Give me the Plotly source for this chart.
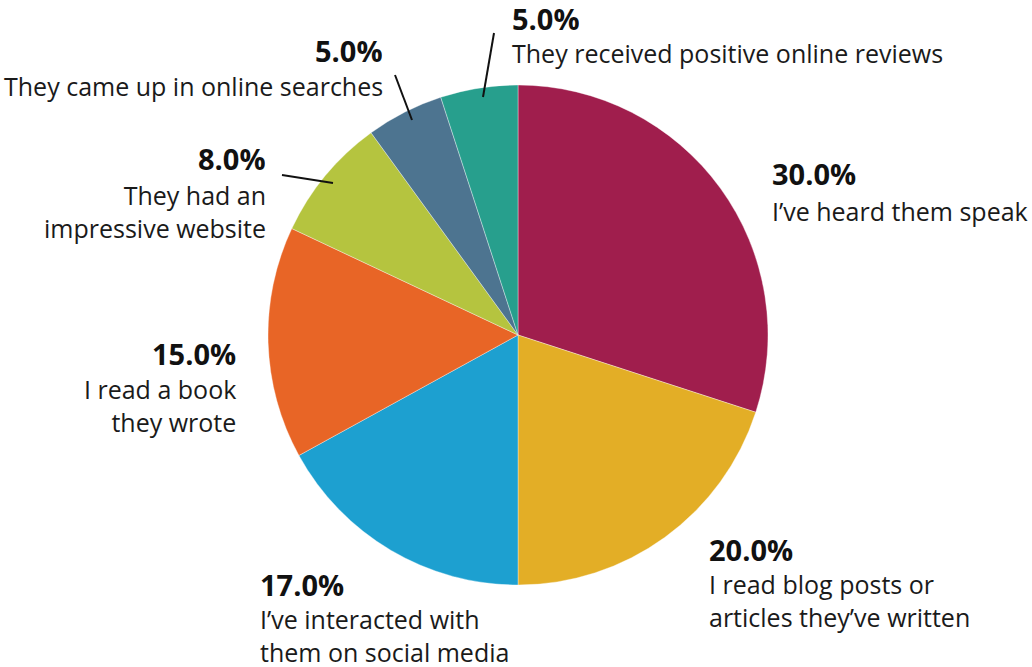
import plotly.graph_objects as go

# data
categories = [
    "I've heard them speak",
    "I read blog posts or articles they've written",
    "I've interacted with them on social media",
    "I read a book they wrote",
    "They had an impressive website",
    "They came up in online searches",
    "They received positive online reviews",
]
values = [30.0, 20.0, 17.0, 15.0, 8.0, 5.0, 5.0]
colors = ["#A01E4D", "#E3AE26", "#1DA0D0", "#E86526", "#B5C43F", "#4D7490", "#279F8D"]
label_lines = [
    "I’ve heard them speak",
    "I read blog posts or<br>articles they’ve written",
    "I’ve interacted with<br>them on social media",
    "I read a book<br>they wrote",
    "They had an<br>impressive website",
    "They came up in online searches",
    "They received positive online reviews",
]

W, H = 1032, 667
FONT = "Open Sans"


def px(x):
    return x / W


def py(y):
    return 1 - y / H


fig = go.Figure()
fig.add_trace(go.Pie(
    labels=categories, values=values,
    marker=dict(colors=colors, line=dict(color="rgba(255,255,255,0.6)", width=0.6)),
    sort=False, direction="clockwise",
    textinfo="none", hoverinfo="skip", showlegend=False,
    domain=dict(x=[px(268), px(768)], y=[py(585), py(85)]),
))

# label placement: (pct x, pct y, text y, anchor)
placements = [
    (770, 173, 192, "left"),
    (707, 549, 565, "left"),
    (258, 584, 600, "left"),
    (238, 353, 370, "right"),
    (268, 158, 176, "right"),
    (385, 50, 67, "right"),
    (510, 18, 34, "left"),
]

for v, txt, (x, yp, yt, anc) in zip(values, label_lines, placements):
    fig.add_annotation(
        x=px(x), y=py(yp), xref="paper", yref="paper",
        text=f"<b>{v:.1f}%</b>", showarrow=False,
        xanchor=anc, yanchor="middle", height=28,
        font=dict(family=FONT, size=29, color="#111111"),
    )
    fig.add_annotation(
        x=px(x), y=py(yt), xref="paper", yref="paper",
        text=txt, showarrow=False, align=anc,
        xanchor=anc, yanchor="top",
        font=dict(family=FONT, size=25, color="#1a1a1a"),
    )

# leader lines for the small slices
leaders = [((333, 183), (282, 175)), ((412, 120), (395, 75)), ((483, 97), (494, 33))]
for (x0, y0), (x1, y1) in leaders:
    fig.add_shape(type="line", xref="paper", yref="paper",
                  x0=px(x0), y0=py(y0), x1=px(x1), y1=py(y1),
                  line=dict(color="#111111", width=2))

fig.update_layout(
    width=W, height=H,
    margin=dict(l=0, r=0, t=0, b=0),
    paper_bgcolor="white", plot_bgcolor="white",
)

fig.write_html("out.html", config={"displayModeBar": False},
               post_script="document.body.style.margin='0';")
